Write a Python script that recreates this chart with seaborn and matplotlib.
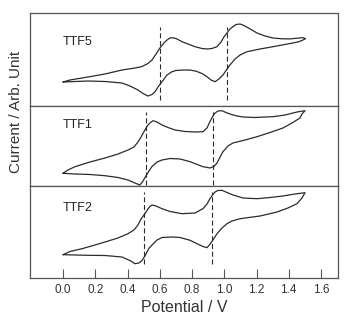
import numpy as np
import pandas as pd
import seaborn as sns
from matplotlib import pyplot as plt

# cyclic voltammograms (potential in V, current in arb. units)
# TTF5
ttf5_v = [0.0, 0.043, 0.155, 0.260, 0.366, 0.447, 0.490, 0.527, 0.552, 0.577, 0.601, 0.626,
          0.645, 0.663, 0.676, 0.701, 0.738, 0.775, 0.819, 0.862, 0.893, 0.924, 0.955, 0.980,
          0.998, 1.017, 1.035, 1.054, 1.073, 1.098, 1.122, 1.147, 1.172, 1.203, 1.253, 1.302,
          1.358, 1.408, 1.457, 1.488, 1.504,
          1.482, 1.457, 1.408, 1.302, 1.222, 1.141, 1.098, 1.067, 1.035, 1.011, 0.992, 0.967,
          0.943, 0.918, 0.893, 0.862, 0.825, 0.788, 0.744, 0.701, 0.676, 0.645, 0.614, 0.589,
          0.571, 0.552, 0.527, 0.496, 0.465, 0.415, 0.366, 0.260, 0.155, 0.074, 0.0]
ttf5_i = [2.35, 2.55, 2.85, 3.15, 3.55, 3.75, 3.90, 4.20, 4.55, 5.15, 5.75, 6.25,
          6.55, 6.75, 6.78, 6.70, 6.38, 6.15, 5.88, 5.70, 5.65, 5.70, 5.88, 6.35,
          6.85, 7.25, 7.65, 7.88, 8.10, 8.15, 8.00, 7.78, 7.55, 7.25, 6.95, 6.75,
          6.67, 6.66, 6.74, 6.78, 6.68,
          6.50, 6.35, 6.20, 5.88, 5.65, 5.38, 5.05, 4.65, 4.05, 3.50, 3.05, 2.65,
          2.38, 2.55, 2.88, 3.20, 3.43, 3.55, 3.55, 3.50, 3.38, 3.05, 2.38, 1.85,
          1.38, 1.10, 0.95, 1.20, 1.55, 1.95, 2.25, 2.40, 2.45, 2.40, 2.35]

# TTF1
ttf1_v = [0.0, 0.031, 0.074, 0.167, 0.260, 0.341, 0.403, 0.440, 0.465, 0.484, 0.508, 0.527,
          0.539, 0.558, 0.583, 0.614, 0.651, 0.695, 0.757, 0.819, 0.868, 0.893, 0.911, 0.930,
          0.943, 0.961, 0.986, 1.011, 1.035, 1.079, 1.116, 1.191, 1.253, 1.302, 1.377, 1.451,
          1.501,
          1.482, 1.470, 1.420, 1.364, 1.284, 1.203, 1.129, 1.054, 1.023, 0.992, 0.974, 0.955,
          0.936, 0.911, 0.887, 0.868, 0.825, 0.788, 0.726, 0.664, 0.614, 0.583, 0.552, 0.533,
          0.514, 0.496, 0.477, 0.453, 0.403, 0.341, 0.260, 0.167, 0.074, 0.0]
ttf1_i = [1.27, 1.60, 1.93, 2.40, 2.80, 3.20, 3.60, 3.90, 4.40, 4.90, 5.60, 6.10,
          6.30, 6.53, 6.40, 6.10, 5.85, 5.60, 5.45, 5.40, 5.43, 5.80, 6.43, 7.00,
          7.30, 7.50, 7.53, 7.35, 7.20, 7.00, 6.90, 6.85, 6.90, 6.93, 7.10, 7.40,
          7.53,
          7.20, 6.80, 6.30, 5.80, 5.35, 4.93, 4.60, 4.30, 4.00, 3.43, 2.90, 2.30,
          1.95, 1.80, 1.88, 1.93, 2.20, 2.43, 2.70, 2.75, 2.60, 2.40, 1.95, 1.50,
          1.00, 0.50, 0.10, 0.25, 0.60, 0.85, 1.03, 1.15, 1.20, 1.27]

# TTF2
ttf2_v = [0.0, 0.043, 0.118, 0.198, 0.260, 0.341, 0.403, 0.440, 0.465, 0.484, 0.508, 0.527,
          0.539, 0.552, 0.577, 0.614, 0.664, 0.738, 0.819, 0.868, 0.893, 0.911, 0.930, 0.943,
          0.961, 0.986, 1.017, 1.054, 1.116, 1.203, 1.284, 1.364, 1.439, 1.501,
          1.482, 1.451, 1.395, 1.327, 1.222, 1.098, 1.048, 1.017, 0.986, 0.955, 0.930, 0.911,
          0.893, 0.868, 0.831, 0.788, 0.726, 0.676, 0.614, 0.583, 0.552, 0.533, 0.508, 0.490,
          0.471, 0.446, 0.421, 0.366, 0.260, 0.155, 0.074, 0.0]
ttf2_i = [2.36, 2.68, 2.96, 3.33, 3.63, 4.03, 4.46, 4.83, 5.33, 5.93, 6.46, 6.93,
          7.18, 7.33, 7.23, 6.96, 6.68, 6.46, 6.53, 6.96, 7.43, 7.96, 8.38, 8.63,
          8.78, 8.80, 8.58, 8.33, 8.03, 7.96, 8.08, 8.23, 8.43, 8.56,
          8.03, 7.46, 7.03, 6.63, 6.23, 5.96, 5.73, 5.46, 5.03, 4.46, 3.83, 3.40,
          3.06, 3.18, 3.46, 3.80, 4.08, 4.13, 4.08, 3.83, 3.33, 3.00, 2.23, 1.78,
          1.53, 1.46, 1.73, 2.13, 2.28, 2.30, 2.33, 2.36]

names = ["TTF5", "TTF1", "TTF2"]
half_wave = {"TTF5": [0.60, 1.02], "TTF1": [0.513, 0.93], "TTF2": [0.504, 0.922]}
dash_span = {"TTF5": [0.55, 7.8], "TTF1": [0.1, 7.45], "TTF2": [1.4, 8.6]}
ymax = {"TTF5": 9.22, "TTF1": 8.05, "TTF2": 9.23}
label_y = {"TTF5": 6.35, "TTF1": 6.1, "TTF2": 7.05}
xticks = [0.0, 0.2, 0.4, 0.6, 0.8, 1.0, 1.2, 1.4, 1.6]

curves = pd.concat([
    pd.DataFrame({"V": ttf5_v, "I": ttf5_i, "name": "TTF5"}),
    pd.DataFrame({"V": ttf1_v, "I": ttf1_i, "name": "TTF1"}),
    pd.DataFrame({"V": ttf2_v, "I": ttf2_i, "name": "TTF2"}),
])

sns.set_style("white")
plt.rcParams['font.family'] = ['Liberation Sans', 'DejaVu Sans']

W, H = 351, 321
fig = plt.figure(figsize=(W / 100, H / 100), dpi=100)
left, right = 30 / W, 338 / W
# panel edges in pixels from the top
edges = [(13.3, 105.5), (105.5, 186.0), (186.0, 278.3)]
line_col = "#2b2b2b"
spine_col = "#555555"

for k, name in enumerate(names):
    top, bot = edges[k]
    ax = fig.add_axes([left, 1 - bot / H, right - left, (bot - top) / H])
    d = curves[curves["name"] == name]
    sns.lineplot(data=d, x="V", y="I", sort=False, estimator=None, color=line_col,
                 linewidth=0.9, ax=ax)
    for xv in half_wave[name]:
        ax.vlines(xv, dash_span[name][0], dash_span[name][1], colors=line_col,
                  linewidth=0.8, linestyles=(0, (4.5, 2.5)))
    ax.text(0.0, label_y[name], name, fontsize=9, color="#222222", ha="left", va="center")
    ax.set_xlim(-0.2047, 1.7054)
    ax.set_ylim(0, ymax[name])
    ax.set_yticks([])
    ax.set_ylabel("")
    for s in ax.spines.values():
        s.set_color(spine_col)
        s.set_linewidth(0.9)
    if k < 2:
        ax.set_xticks([])
        ax.set_xlabel("")
    else:
        ax.set_xticks(xticks)
        ax.set_xticklabels([f"{t:.1f}" for t in xticks])
        ax.tick_params(axis="x", direction="in", length=6.5, width=0.8, color=spine_col,
                       pad=4, labelsize=8.5, labelcolor="#333333", bottom=True)
        ax.set_xlabel("Potential / V", fontsize=11.5, color="#333333", labelpad=3)

fig.text(16.5 / W, 1 - 112 / H, "Current / Arb. Unit", rotation=90, fontsize=11,
         color="#333333", ha="center", va="center")

fig.savefig("out.png", dpi=100)
